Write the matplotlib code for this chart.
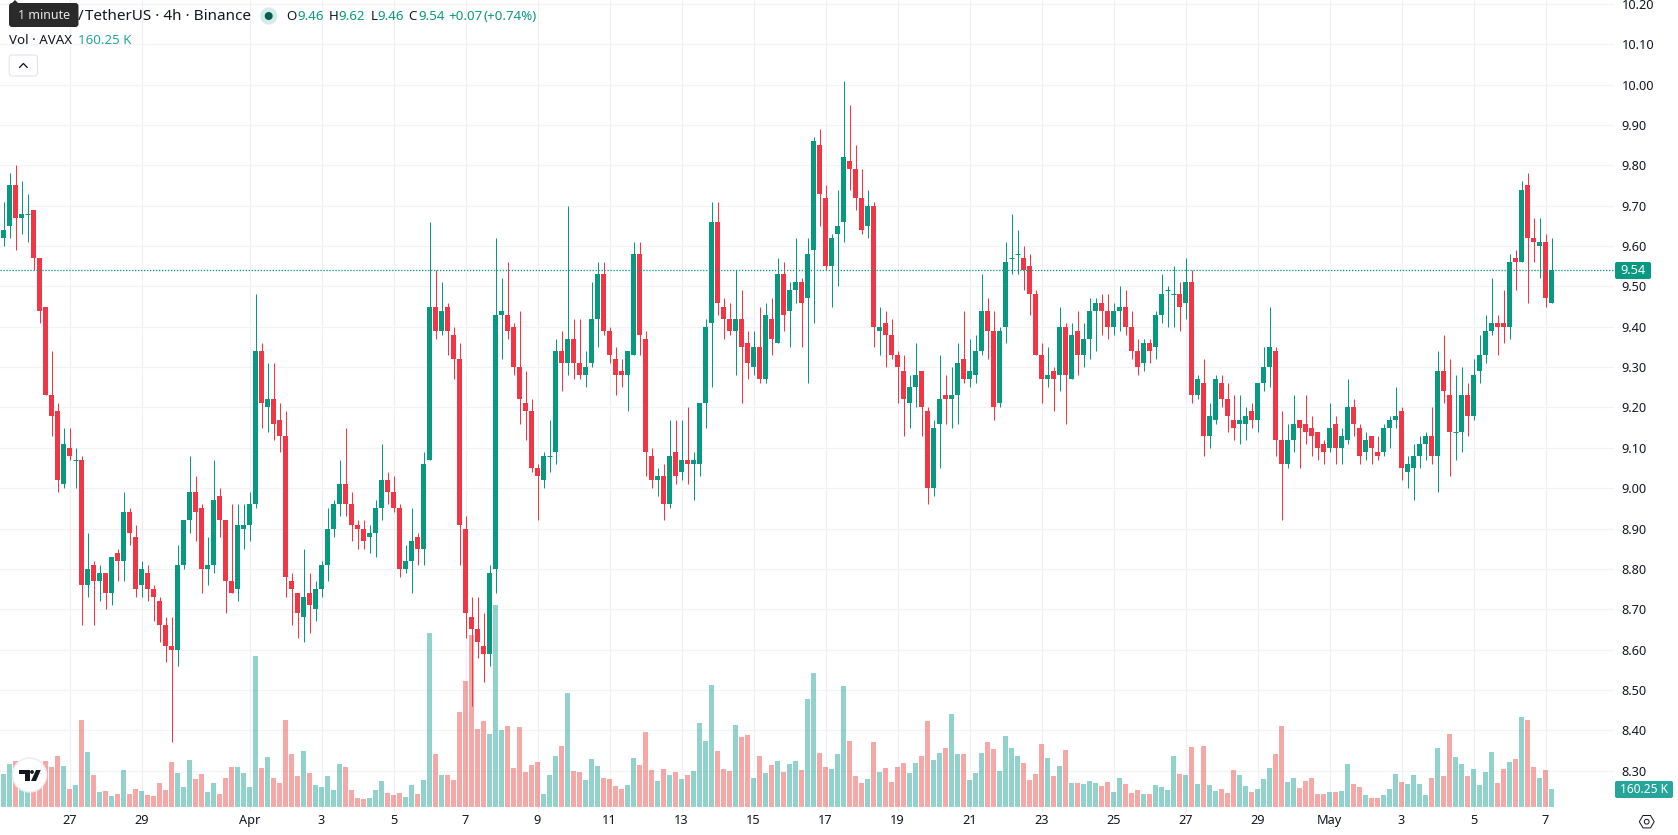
import matplotlib
matplotlib.use("Agg")
import matplotlib.pyplot as plt
from matplotlib.patches import Circle, FancyBboxPatch, Polygon

plt.rcParams["font.family"] = ["Noto Sans", "DejaVu Sans"]

# AVAX/USDT 4h candles
opens = [
    9.62,9.65,9.75,9.67,9.68,9.69,9.57,9.45,9.23,9.19,
    9.01,9.10,9.07,9.07,8.76,8.81,8.77,8.79,8.74,8.84,
    8.82,8.94,8.88,8.76,8.79,8.75,8.72,8.66,8.61,8.60,
    8.81,8.92,8.99,8.95,8.80,8.81,8.98,8.92,8.77,8.75,
    8.90,8.91,8.96,9.34,9.20,9.22,9.17,9.13,8.77,8.74,
    8.68,8.74,8.70,8.75,8.81,8.90,8.96,9.01,8.96,8.91,
    8.90,8.88,8.89,8.95,9.02,8.99,8.95,8.80,8.82,8.88,
    8.85,9.07,9.45,9.39,9.45,9.38,9.32,8.90,8.68,8.65,
    8.61,8.59,8.80,9.43,9.43,9.40,9.30,9.21,9.19,9.05,
    9.02,9.08,9.09,9.34,9.31,9.37,9.31,9.28,9.31,9.42,
    9.53,9.39,9.32,9.29,9.28,9.33,9.58,9.37,9.08,9.02,
    9.03,8.96,9.09,9.04,9.07,9.06,9.06,9.21,9.41,9.66,
    9.45,9.42,9.39,9.42,9.36,9.30,9.35,9.27,9.42,9.36,
    9.53,9.44,9.49,9.51,9.47,9.59,9.85,9.72,9.55,9.63,
    9.66,9.81,9.79,9.72,9.65,9.70,9.39,9.41,9.38,9.33,
    9.29,9.21,9.25,9.29,9.19,9.00,9.16,9.23,9.22,9.23,
    9.32,9.27,9.28,9.34,9.44,9.39,9.21,9.40,9.57,9.58,
    9.57,9.55,9.48,9.33,9.27,9.29,9.28,9.40,9.27,9.39,
    9.33,9.37,9.44,9.46,9.44,9.40,9.44,9.45,9.40,9.34,
    9.31,9.36,9.35,9.43,9.49,9.48,9.48,9.46,9.51,9.23,
    9.26,9.13,9.17,9.26,9.22,9.17,9.16,9.16,9.19,9.17,
    9.26,9.30,9.34,9.12,9.06,9.12,9.17,9.16,9.15,9.14,
    9.11,9.10,9.16,9.10,9.12,9.20,9.15,9.09,9.13,9.09,
    9.09,9.15,9.17,9.19,9.04,9.05,9.08,9.11,9.13,9.08,
    9.29,9.23,9.14,9.14,9.23,9.18,9.29,9.33,9.39,9.41,
    9.41,9.40,9.57,9.56,9.75,9.62,9.60,9.61,9.46,
]
closes = [
    9.64,9.75,9.67,9.68,9.68,9.57,9.44,9.23,9.18,9.02,
    9.11,9.08,9.07,8.76,8.80,8.77,8.79,8.74,8.83,8.82,
    8.94,8.89,8.75,8.80,8.75,8.73,8.66,8.61,8.60,8.81,
    8.92,8.99,8.94,8.80,8.81,8.97,8.92,8.77,8.74,8.91,
    8.91,8.96,9.34,9.21,9.22,9.16,9.13,8.78,8.75,8.69,
    8.73,8.71,8.75,8.81,8.90,8.96,9.01,8.96,8.91,8.90,
    8.87,8.89,8.95,9.02,8.99,8.95,8.80,8.82,8.87,8.85,
    9.06,9.45,9.39,9.44,9.39,9.32,8.91,8.69,8.65,8.62,
    8.59,8.79,9.43,9.44,9.39,9.30,9.22,9.19,9.05,9.03,
    9.08,9.08,9.34,9.31,9.37,9.31,9.28,9.30,9.42,9.53,
    9.39,9.33,9.28,9.28,9.34,9.58,9.38,9.09,9.02,9.03,
    8.96,9.08,9.03,9.07,9.06,9.07,9.21,9.40,9.66,9.46,
    9.42,9.39,9.42,9.35,9.31,9.35,9.27,9.43,9.37,9.53,
    9.43,9.49,9.51,9.46,9.58,9.86,9.73,9.55,9.62,9.65,
    9.82,9.79,9.72,9.64,9.70,9.40,9.40,9.38,9.33,9.30,
    9.22,9.25,9.28,9.20,9.00,9.15,9.22,9.22,9.23,9.31,
    9.27,9.29,9.34,9.44,9.39,9.20,9.39,9.56,9.57,9.58,
    9.54,9.48,9.33,9.27,9.28,9.27,9.40,9.28,9.38,9.33,
    9.37,9.44,9.46,9.44,9.40,9.44,9.45,9.40,9.34,9.30,
    9.36,9.34,9.43,9.48,9.49,9.48,9.45,9.51,9.23,9.27,
    9.13,9.18,9.27,9.22,9.18,9.15,9.17,9.18,9.17,9.26,
    9.30,9.35,9.12,9.06,9.12,9.16,9.15,9.14,9.13,9.10,
    9.09,9.15,9.10,9.13,9.20,9.16,9.08,9.12,9.10,9.08,
    9.15,9.17,9.18,9.05,9.06,9.08,9.11,9.13,9.08,9.29,
    9.24,9.14,9.14,9.23,9.18,9.28,9.33,9.39,9.41,9.40,
    9.40,9.56,9.56,9.74,9.62,9.61,9.61,9.47,9.54,
]
highs = [
    9.71,9.78,9.80,9.76,9.73,9.69,9.57,9.45,9.34,9.21,
    9.15,9.15,9.10,9.08,8.89,8.82,8.81,8.79,8.83,8.85,
    8.99,8.95,8.91,8.82,8.81,8.76,8.73,8.68,8.68,8.86,
    8.92,9.08,9.03,8.96,8.88,9.07,9.00,8.92,8.96,8.96,
    8.96,8.99,9.48,9.36,9.31,9.31,9.21,9.19,8.79,8.74,
    8.85,8.79,8.77,8.82,8.95,8.97,9.07,9.15,8.99,8.92,
    8.92,8.91,8.97,9.11,9.04,9.03,8.96,8.86,8.95,8.89,
    9.09,9.66,9.54,9.51,9.46,9.40,9.36,8.93,8.73,8.73,
    8.69,8.81,9.62,9.52,9.56,9.41,9.44,9.29,9.22,9.06,
    9.09,9.17,9.37,9.39,9.70,9.42,9.42,9.34,9.51,9.56,
    9.56,9.40,9.35,9.32,9.34,9.61,9.61,9.39,9.10,9.05,
    9.06,9.17,9.17,9.17,9.20,9.09,9.21,9.42,9.71,9.71,
    9.47,9.46,9.54,9.49,9.39,9.39,9.45,9.46,9.47,9.57,
    9.56,9.51,9.62,9.52,9.62,9.87,9.89,9.75,9.63,9.74,
    10.01,9.95,9.85,9.79,9.74,9.71,9.45,9.44,9.42,9.34,
    9.33,9.28,9.36,9.29,9.20,9.17,9.33,9.28,9.30,9.36,
    9.44,9.37,9.38,9.53,9.47,9.44,9.40,9.61,9.68,9.64,
    9.60,9.58,9.49,9.36,9.35,9.30,9.45,9.41,9.41,9.44,
    9.41,9.47,9.47,9.48,9.48,9.46,9.50,9.49,9.44,9.37,
    9.37,9.37,9.44,9.53,9.50,9.55,9.51,9.57,9.54,9.28,
    9.32,9.21,9.28,9.28,9.26,9.23,9.23,9.20,9.21,9.26,
    9.35,9.45,9.35,9.19,9.16,9.23,9.17,9.23,9.18,9.14,
    9.12,9.21,9.18,9.15,9.27,9.22,9.16,9.14,9.13,9.13,
    9.16,9.18,9.25,9.20,9.08,9.11,9.13,9.14,9.20,9.34,
    9.38,9.32,9.28,9.30,9.26,9.32,9.38,9.43,9.52,9.43,
    9.49,9.58,9.59,9.76,9.78,9.67,9.67,9.63,9.62,
]
lows = [
    9.60,9.62,9.59,9.63,9.61,9.54,9.41,9.23,9.13,8.99,
    9.00,9.07,9.00,8.66,8.73,8.66,8.72,8.70,8.71,8.77,
    8.77,8.86,8.73,8.73,8.72,8.67,8.62,8.57,8.37,8.56,
    8.80,8.89,8.87,8.74,8.76,8.79,8.88,8.69,8.74,8.72,
    8.85,8.87,8.95,9.15,9.14,9.12,9.09,8.73,8.66,8.63,
    8.62,8.64,8.67,8.73,8.77,8.88,8.93,8.93,8.87,8.85,
    8.85,8.84,8.83,8.92,8.96,8.94,8.78,8.79,8.74,8.81,
    8.81,9.07,9.37,9.38,9.33,9.27,8.81,8.63,8.46,8.58,
    8.52,8.56,8.74,9.32,9.37,9.28,9.16,9.12,9.04,8.92,
    9.00,9.04,9.06,9.24,9.28,9.27,9.27,9.25,9.30,9.35,
    9.38,9.31,9.23,9.25,9.19,9.33,9.33,9.03,9.00,8.98,
    8.92,8.95,9.01,9.02,9.01,8.97,9.03,9.15,9.25,9.43,
    9.37,9.38,9.28,9.21,9.27,9.28,9.26,9.26,9.33,9.36,
    9.39,9.35,9.46,9.35,9.26,9.41,9.65,9.54,9.45,9.50,
    9.61,9.74,9.69,9.63,9.62,9.35,9.33,9.30,9.32,9.21,
    9.13,9.15,9.20,9.13,8.96,8.98,9.05,9.16,9.15,9.16,
    9.26,9.25,9.26,9.33,9.32,9.17,9.20,9.36,9.53,9.53,
    9.49,9.43,9.33,9.21,9.25,9.19,9.24,9.16,9.27,9.28,
    9.30,9.32,9.34,9.38,9.37,9.38,9.39,9.38,9.32,9.28,
    9.29,9.31,9.32,9.41,9.40,9.40,9.39,9.42,9.21,9.22,
    9.08,9.10,9.16,9.20,9.14,9.12,9.11,9.12,9.15,9.14,
    9.24,9.25,9.08,8.92,9.05,9.09,9.05,9.11,9.08,9.07,
    9.06,9.09,9.06,9.06,9.11,9.13,9.06,9.07,9.06,9.07,
    9.08,9.10,9.15,9.02,9.00,8.97,9.05,9.07,9.06,8.99,
    9.21,9.03,9.07,9.09,9.13,9.17,9.26,9.31,9.38,9.33,
    9.36,9.37,9.49,9.56,9.46,9.56,9.52,9.45,9.46,
]
# volume in thousands of AVAX
volumes = [
    297,387,414,270,200,300,330,414,360,459,
    369,162,198,783,495,288,135,144,99,117,
    333,117,162,144,108,99,216,153,405,306,
    180,423,252,297,135,216,117,261,360,360,
    306,180,1359,351,450,261,216,783,477,279,
    504,306,198,180,279,153,387,360,153,81,
    72,81,153,234,126,108,126,90,198,117,
    243,1566,477,288,288,243,855,1134,1548,702,
    774,657,1818,693,729,351,720,315,378,405,
    117,288,459,549,1026,324,315,243,432,369,
    261,252,189,162,198,441,378,675,333,234,
    342,288,315,252,288,324,756,594,1098,504,
    342,324,738,630,648,261,459,306,378,414,
    315,387,414,333,972,1206,486,360,342,477,
    1089,594,279,216,252,585,315,351,225,360,
    396,306,396,459,774,423,486,531,837,477,
    477,243,306,486,585,522,324,639,531,459,
    396,243,297,567,441,279,369,513,216,216,
    207,234,216,189,225,135,261,207,126,153,
    117,117,198,180,153,459,297,288,540,207,
    549,198,144,162,126,333,288,189,135,162,
    252,351,477,729,225,261,171,234,261,117,
    117,135,135,144,387,207,180,108,81,81,
    108,162,297,225,207,288,207,108,261,531,
    279,657,450,387,279,342,198,315,495,216,
    342,405,432,810,783,360,261,333,160.25,
]
price_ticks = [8.30,8.40,8.50,8.60,8.70,8.80,8.90,9.00,9.10,9.20,9.30,
               9.40,9.50,9.60,9.70,9.80,9.90,10.00,10.10,10.20]
date_positions = [11,23,41,53,65,77,89,101,113,125,137,149,161,173,185,197,209,221,233,245,257]
date_labels = ["27","29","Apr","3","5","7","9","11","13","15","17","19","21","23",
               "25","27","29","May","3","5","7"]
last_price = 9.54

GREEN = "#089981"
RED = "#F23645"
TEAL = "#26A69A"
VOL_RED = "#EF5350"
TEXT = "#131722"
W, H = 1678, 835
PANE_W, PANE_H = 1614, 812
px = 0.72  # one pixel in points at 100 dpi

fig = plt.figure(figsize=(W / 100, H / 100), dpi=100, facecolor="white")
pane = [0, (H - PANE_H) / H, PANE_W / W, PANE_H / H]

xlim = (-3.5 / 6, (PANE_W - 3.5) / 6)
ylim = (9.80 - (PANE_H - 165.3) / 403.6, 9.80 + 165.3 / 403.6)

# Bottom layer: grid and axis labels
ax_grid = fig.add_axes(pane, zorder=0, facecolor="white")
ax_grid.set_xlim(xlim)
ax_grid.set_ylim(ylim)
ax_grid.set_yticks(price_ticks, [f"{v:.2f}" for v in price_ticks])
ax_grid.set_xticks(date_positions, date_labels)
ax_grid.yaxis.tick_right()
ax_grid.tick_params(axis="both", length=0, labelsize=9.2, labelcolor=TEXT)
ax_grid.tick_params(axis="y", pad=5.5)
ax_grid.tick_params(axis="x", pad=1.5)
for lab in ax_grid.get_xticklabels():
    if lab.get_text() in ("Apr", "May"):
        lab.set_fontweight("bold")
ax_grid.grid(axis="y", color="#F2F3F5", lw=1.2 * px)
ax_grid.grid(axis="x", color="#F0F0F3", lw=1.2 * px)
ax_grid.set_axisbelow(True)
for s in ax_grid.spines.values():
    s.set_visible(False)

# Volume bars, anchored just above the pane bottom
vol_colors = [VOL_RED if c < o else TEAL for o, c in zip(opens, closes)]
ax_vol = fig.add_axes(pane, zorder=1, facecolor="none")
ax_vol.set_xlim(xlim)
ax_vol.set_ylim(-5 * 9, (PANE_H - 5) * 9)
ax_vol.bar(range(len(volumes)), volumes, width=5 / 6, color=vol_colors, alpha=0.5, linewidth=0)
ax_vol.axis("off")

# Candles
ax = fig.add_axes(pane, zorder=2, facecolor="none")
ax.set_xlim(xlim)
ax.set_ylim(ylim)
ax.axis("off")
for i, (o, h, l, c) in enumerate(zip(opens, highs, lows, closes)):
    col = RED if c < o else GREEN
    ax.vlines(i, l, h, color=col, lw=1.0 * px, zorder=3)
    if o == c:
        ax.hlines(o, i - 2.5 / 6, i + 2.5 / 6, color=col, lw=1.0 * px, zorder=4)
    else:
        ax.bar(i, abs(c - o), bottom=min(o, c), width=5 / 6, color=col, linewidth=0, zorder=4)
ax.axhline(last_price, color=GREEN, lw=1.3 * px, linestyle=(0, (1, 1.3)), zorder=5)

# Interface elements, positioned in pixels
ui = fig.add_axes([0, 0, 1, 1], zorder=3, facecolor="none")
ui.set_xlim(0, W)
ui.set_ylim(H, 0)
ui.axis("off")

def label(x, y, s, color=TEXT, size=9.6, ha="left", **kw):
    ui.text(x, y, s, color=color, fontsize=size, ha=ha, va="center", **kw)

# Last price and last volume tags
ui.add_patch(FancyBboxPatch((1617, 264), 32, 13, boxstyle="round,pad=2,rounding_size=2",
                            fc=GREEN, ec="none"))
label(1633, 270.5, "9.54", color="white", ha="center", size=9.2)
ui.add_patch(FancyBboxPatch((1617, 783), 54, 13, boxstyle="round,pad=2,rounding_size=2",
                            fc=TEAL, ec="none"))
label(1644.5, 789.5, "160.25 K", color="white", ha="center", size=8.6)

# Legend rows
label(78, 16, "/", size=11)
label(85, 16, "TetherUS · 4h · Binance", size=11)
ui.add_patch(Circle((268.7, 16), 8.6, fc="#D5EBE7", ec="none"))
ui.add_patch(Circle((268.7, 16), 4, fc="#00604F", ec="none"))
for x, s, col in [(286, "O", TEXT), (297, "9.46", GREEN), (329, "H", TEXT), (338.7, "9.62", GREEN),
                  (370.5, "L", TEXT), (377, "9.46", GREEN), (408.7, "C", TEXT), (418, "9.54", GREEN),
                  (448.5, "+0.07", GREEN), (484, "(+0.74%)", GREEN)]:
    label(x, 16, s, color=col)
label(9.2, 40.5, "Vol · AVAX")
label(78.5, 40.5, "160.25 K", color=TEAL)

# Tooltip over the symbol name
ui.add_patch(Polygon([(10, 5), (15, 0), (20, 5)], fc="#2A2A2A", ec="none"))
ui.add_patch(FancyBboxPatch((11, 5), 65.5, 20, boxstyle="round,pad=2,rounding_size=3",
                            fc="#2A2A2A", ec="none"))
label(43.8, 15.5, "1 minute", color="#E8E8E8", ha="center", size=9)

# Collapse button
ui.add_patch(FancyBboxPatch((9.7, 55.5), 27.3, 20, boxstyle="round,pad=0.5,rounding_size=3",
                            fc="white", ec="#E0E3EB", lw=1 * px))
ui.plot([19.5, 23.4, 27.3], [67.5, 63.5, 67.5], color=TEXT, lw=1.3 * px, solid_capstyle="round")

# Logo badge
ui.add_patch(Circle((29.5, 775), 17, fc="white", ec="#EDEEF0", lw=1.5 * px))
ui.add_patch(Polygon([(19, 770), (29.5, 770), (29.5, 781), (24.5, 781), (24.5, 773.5), (19, 773.5)],
                     fc="#131722", ec="none"))
ui.add_patch(Circle((32, 772), 1.9, fc="#131722", ec="none"))
ui.add_patch(Polygon([(36, 770), (40.8, 770), (36, 781), (31, 781)], fc="#131722", ec="none"))

# Settings icon
ui.add_patch(Polygon([(1639.3, 821.7), (1643, 815.5), (1650.5, 815.5), (1654.2, 821.7),
                      (1650.5, 827.9), (1643, 827.9)], fc="none", ec=TEXT, lw=1 * px))
ui.add_patch(Circle((1646.7, 821.7), 2.4, fc="none", ec=TEXT, lw=1 * px))

fig.savefig("out.png", dpi=100, facecolor="white")
